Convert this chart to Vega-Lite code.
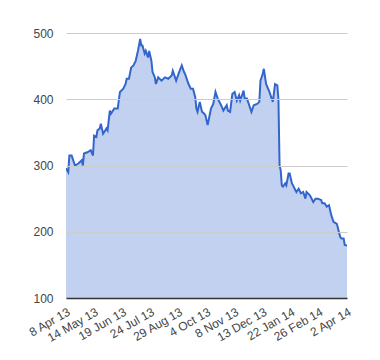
{
  "$schema": "https://vega.github.io/schema/vega-lite/v6.json",
  "autosize": "none",
  "width": 281,
  "height": 265,
  "padding": {"left": 66, "top": 33, "right": 33, "bottom": 62},
  "background": "white",
  "config": {
    "view": {"stroke": null},
    "font": "Liberation Sans",
    "axis": {"labelFont": "Liberation Sans", "labelColor": "#444444", "labelFontSize": 12, "title": null}
  },
  "data": {
    "values": [
      {"t": 0, "v": 296}, {"t": 2, "v": 290}, {"t": 3, "v": 315}, {"t": 5, "v": 315},
      {"t": 8, "v": 300}, {"t": 11, "v": 303}, {"t": 14, "v": 308}, {"t": 15, "v": 300},
      {"t": 16, "v": 318}, {"t": 19, "v": 320}, {"t": 22, "v": 323}, {"t": 24, "v": 315},
      {"t": 25, "v": 345}, {"t": 27, "v": 343}, {"t": 28, "v": 353}, {"t": 30, "v": 356},
      {"t": 31, "v": 363}, {"t": 33, "v": 348}, {"t": 36, "v": 356}, {"t": 37, "v": 353},
      {"t": 39, "v": 383}, {"t": 40, "v": 378}, {"t": 43, "v": 386}, {"t": 46, "v": 386},
      {"t": 48, "v": 411}, {"t": 51, "v": 416}, {"t": 53, "v": 423}, {"t": 54, "v": 431},
      {"t": 56, "v": 431}, {"t": 58, "v": 448}, {"t": 60, "v": 451}, {"t": 62, "v": 458},
      {"t": 64, "v": 473}, {"t": 66, "v": 491}, {"t": 67, "v": 481}, {"t": 68, "v": 481},
      {"t": 70, "v": 469}, {"t": 71, "v": 473}, {"t": 73, "v": 463}, {"t": 74, "v": 473},
      {"t": 76, "v": 458}, {"t": 77, "v": 441}, {"t": 79, "v": 433}, {"t": 80, "v": 423},
      {"t": 82, "v": 433}, {"t": 85, "v": 428}, {"t": 88, "v": 433}, {"t": 91, "v": 431},
      {"t": 94, "v": 436}, {"t": 95, "v": 443}, {"t": 97, "v": 433}, {"t": 98, "v": 428},
      {"t": 100, "v": 438}, {"t": 103, "v": 451}, {"t": 105, "v": 441}, {"t": 106, "v": 438},
      {"t": 109, "v": 423}, {"t": 111, "v": 416}, {"t": 113, "v": 416}, {"t": 115, "v": 403},
      {"t": 116, "v": 386}, {"t": 117, "v": 381}, {"t": 119, "v": 396}, {"t": 121, "v": 381},
      {"t": 123, "v": 378}, {"t": 124, "v": 376}, {"t": 126, "v": 361}, {"t": 129, "v": 386},
      {"t": 131, "v": 393}, {"t": 133, "v": 411}, {"t": 135, "v": 401}, {"t": 138, "v": 391},
      {"t": 140, "v": 383}, {"t": 143, "v": 391}, {"t": 144, "v": 383}, {"t": 146, "v": 381},
      {"t": 148, "v": 408}, {"t": 150, "v": 411}, {"t": 152, "v": 398}, {"t": 154, "v": 406},
      {"t": 155, "v": 398}, {"t": 158, "v": 413}, {"t": 159, "v": 401}, {"t": 161, "v": 401},
      {"t": 163, "v": 391}, {"t": 165, "v": 381}, {"t": 167, "v": 391}, {"t": 170, "v": 393},
      {"t": 172, "v": 396}, {"t": 173, "v": 428}, {"t": 175, "v": 438}, {"t": 176, "v": 446},
      {"t": 178, "v": 423}, {"t": 181, "v": 411}, {"t": 182, "v": 406}, {"t": 184, "v": 396},
      {"t": 186, "v": 423}, {"t": 188, "v": 421}, {"t": 189, "v": 400}, {"t": 190, "v": 300},
      {"t": 191, "v": 293}, {"t": 192, "v": 270}, {"t": 193, "v": 268}, {"t": 195, "v": 273},
      {"t": 196, "v": 270}, {"t": 198, "v": 288}, {"t": 199, "v": 288}, {"t": 201, "v": 273},
      {"t": 202, "v": 270}, {"t": 204, "v": 263}, {"t": 205, "v": 260}, {"t": 207, "v": 265},
      {"t": 209, "v": 258}, {"t": 211, "v": 260}, {"t": 213, "v": 250}, {"t": 214, "v": 260},
      {"t": 217, "v": 255}, {"t": 220, "v": 245}, {"t": 222, "v": 250}, {"t": 224, "v": 250},
      {"t": 227, "v": 248}, {"t": 228, "v": 243}, {"t": 230, "v": 243}, {"t": 232, "v": 238},
      {"t": 234, "v": 240}, {"t": 236, "v": 225}, {"t": 238, "v": 215}, {"t": 241, "v": 212},
      {"t": 242, "v": 205}, {"t": 244, "v": 192}, {"t": 245, "v": 190}, {"t": 247, "v": 190},
      {"t": 248, "v": 180}, {"t": 250, "v": 179}
    ]
  },
  "mark": {
    "type": "area",
    "clip": true,
    "fill": "#c3d1f0",
    "fillOpacity": 1,
    "line": {"color": "#3366cc", "strokeWidth": 2}
  },
  "encoding": {
    "x": {
      "field": "t",
      "type": "quantitative",
      "scale": {"domain": [0, 250], "nice": false, "zero": false},
      "axis": {
        "values": [0, 25, 50, 75, 100, 125, 150, 175, 200, 225, 250],
        "labelExpr": "['8 Apr 13','14 May 13','19 Jun 13','24 Jul 13','29 Aug 13','4 Oct 13','8 Nov 13','13 Dec 13','22 Jan 14','26 Feb 14','2 Apr 14'][round(datum.value/25)]",
        "labelAngle": -30,
        "labelAlign": "right",
        "labelBaseline": "top",
        "labelPadding": 8,
        "labelOverlap": false,
        "labelFlush": false,
        "ticks": false,
        "grid": false,
        "domain": true,
        "domainColor": "#333333",
        "domainWidth": 1.5,
        "zindex": 1
      }
    },
    "y": {
      "field": "v",
      "type": "quantitative",
      "scale": {"domain": [100, 500], "nice": false, "zero": false},
      "axis": {
        "values": [100, 200, 300, 400, 500],
        "ticks": false,
        "domain": false,
        "grid": true,
        "gridColor": "#cccccc",
        "labelPadding": 13,
        "zindex": 1
      }
    }
  }
}
